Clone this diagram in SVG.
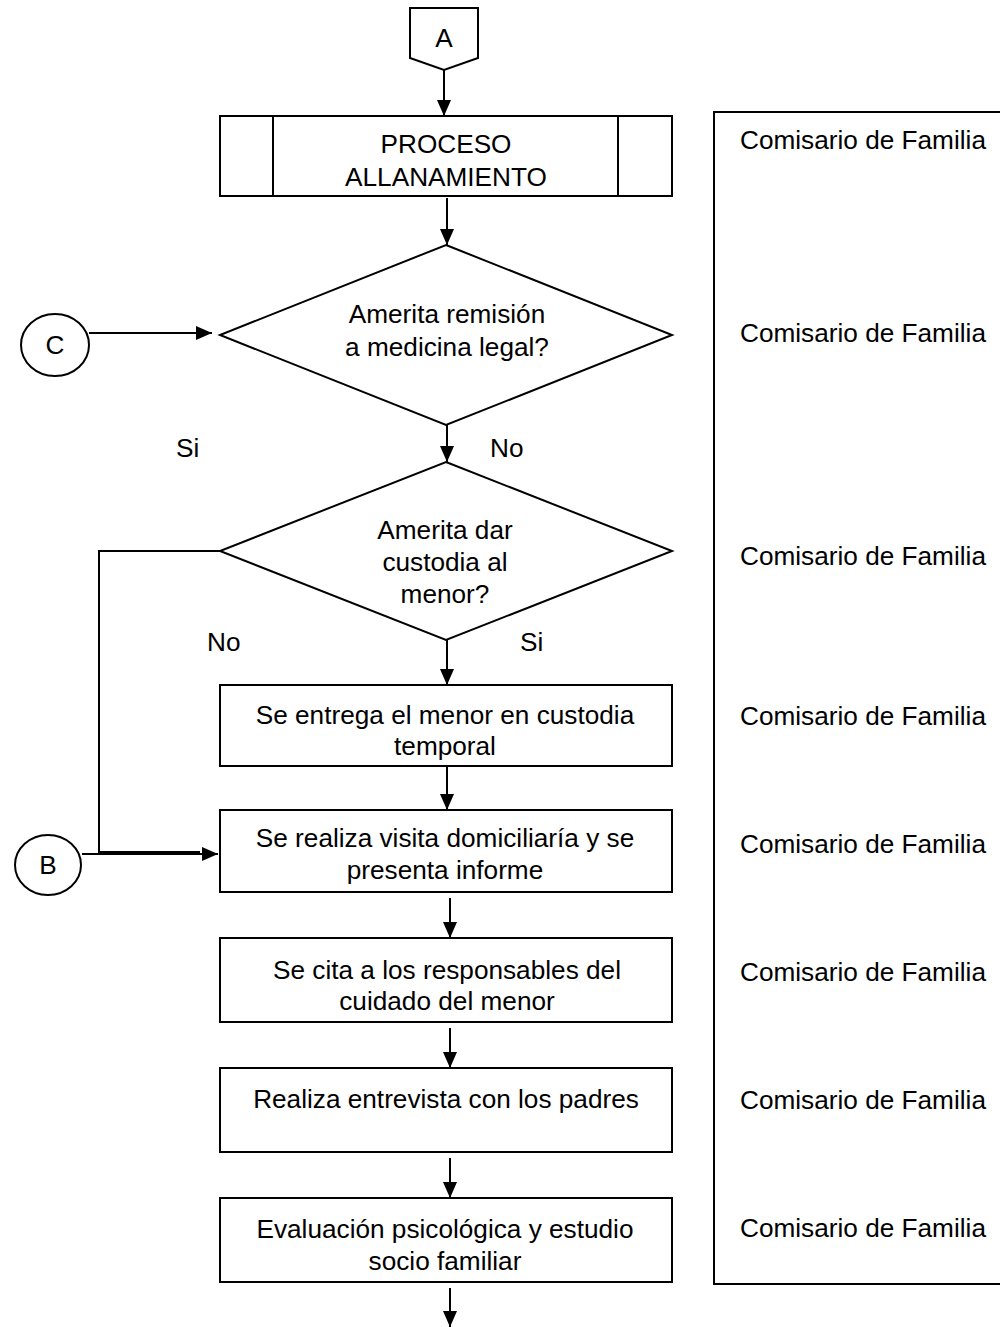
<svg xmlns="http://www.w3.org/2000/svg" width="1000" height="1327" viewBox="0 0 1000 1327">
<defs>
<marker id="ahs" markerWidth="16" markerHeight="14" refX="16" refY="7" orient="auto" markerUnits="userSpaceOnUse" viewBox="0 0 16 14">
<path d="M0,0 L16,7 L0,14 Z" fill="#000"/>
</marker>
</defs>
<style>
.s{fill:#fff;stroke:#000;stroke-width:2}
.l{fill:none;stroke:#000;stroke-width:2}
text{font-family:"Liberation Sans",Arial,sans-serif;font-size:26.2px;fill:#000}
.c{text-anchor:middle}
</style>
<rect width="1000" height="1327" fill="#fff"/>
<g id="connectors">
<line class="l" x1="444" y1="70" x2="444" y2="116" marker-end="url(#ahs)"/>
<line class="l" x1="447" y1="198" x2="447" y2="245" marker-end="url(#ahs)"/>
<line class="l" x1="89" y1="333" x2="212" y2="333" marker-end="url(#ahs)"/>
<line class="l" x1="447" y1="425" x2="447" y2="462" marker-end="url(#ahs)"/>
<polyline class="l" points="220,551 99,551 99,852 140,852"/>
<line class="l" x1="82" y1="854" x2="218" y2="854" marker-end="url(#ahs)"/>
<line class="l" x1="99" y1="852" x2="200" y2="852"/>
<line class="l" x1="447" y1="640" x2="447" y2="685" marker-end="url(#ahs)"/>
<line class="l" x1="447" y1="767" x2="447" y2="810" marker-end="url(#ahs)"/>
<line class="l" x1="450" y1="898" x2="450" y2="938" marker-end="url(#ahs)"/>
<line class="l" x1="450" y1="1028" x2="450" y2="1068" marker-end="url(#ahs)"/>
<line class="l" x1="450" y1="1158" x2="450" y2="1198" marker-end="url(#ahs)"/>
<line class="l" x1="450" y1="1288" x2="450" y2="1327" marker-end="url(#ahs)"/>
</g>
<g id="nodeA">
<polygon class="s" points="410,8 478,8 478,58 444,70 410,58"/>
<text class="c" x="444" y="47">A</text>
</g>
<g id="proceso">
<rect class="s" x="220" y="116" width="452" height="80"/>
<line class="l" x1="273" y1="116" x2="273" y2="196"/>
<line class="l" x1="618" y1="116" x2="618" y2="196"/>
<text class="c" x="446" y="153">PROCESO</text>
<text class="c" x="446" y="186">ALLANAMIENTO</text>
</g>
<g id="nodeC">
<ellipse class="s" cx="55" cy="345" rx="34" ry="31"/>
<text class="c" x="55" y="354">C</text>
</g>
<g id="decision1">
<polygon class="s" points="446,245 672,335 446,425 220,335"/>
<text class="c" x="447" y="323">Amerita remisión</text>
<text class="c" x="447" y="356">a medicina legal?</text>
</g>
<g id="labels1">
<text x="176" y="457">Si</text>
<text x="490" y="457">No</text>
</g>
<g id="decision2">
<polygon class="s" points="446,462 672,551 446,640 220,551"/>
<text class="c" x="445" y="539">Amerita dar</text>
<text class="c" x="445" y="571">custodia al</text>
<text class="c" x="445" y="603">menor?</text>
</g>
<g id="labels2">
<text x="207" y="651">No</text>
<text x="520" y="651">Si</text>
</g>
<g id="nodeB">
<ellipse class="s" cx="48" cy="865" rx="33" ry="30"/>
<text class="c" x="48" y="874">B</text>
</g>
<g id="entrega">
<rect class="s" x="220" y="685" width="452" height="81"/>
<text class="c" x="445" y="724">Se entrega el menor en custodia</text>
<text class="c" x="445" y="755">temporal</text>
</g>
<g id="visita">
<rect class="s" x="220" y="810" width="452" height="82"/>
<text class="c" x="445" y="847">Se realiza visita domiciliaría y se</text>
<text class="c" x="445" y="879">presenta informe</text>
</g>
<g id="cita">
<rect class="s" x="220" y="938" width="452" height="84"/>
<text class="c" x="447" y="979">Se cita a los responsables del</text>
<text class="c" x="447" y="1010">cuidado del menor</text>
</g>
<g id="entrevista">
<rect class="s" x="220" y="1068" width="452" height="84"/>
<text class="c" x="446" y="1108">Realiza entrevista con los padres</text>
</g>
<g id="evaluacion">
<rect class="s" x="220" y="1198" width="452" height="84"/>
<text class="c" x="445" y="1238">Evaluación psicológica y estudio</text>
<text class="c" x="445" y="1270">socio familiar</text>
</g>
<g id="responsables">
<rect class="s" x="714" y="112" width="300" height="1172"/>
<text x="740" y="149">Comisario de Familia</text>
<text x="740" y="342">Comisario de Familia</text>
<text x="740" y="565">Comisario de Familia</text>
<text x="740" y="725">Comisario de Familia</text>
<text x="740" y="853">Comisario de Familia</text>
<text x="740" y="981">Comisario de Familia</text>
<text x="740" y="1109">Comisario de Familia</text>
<text x="740" y="1237">Comisario de Familia</text>
</g>
</svg>
